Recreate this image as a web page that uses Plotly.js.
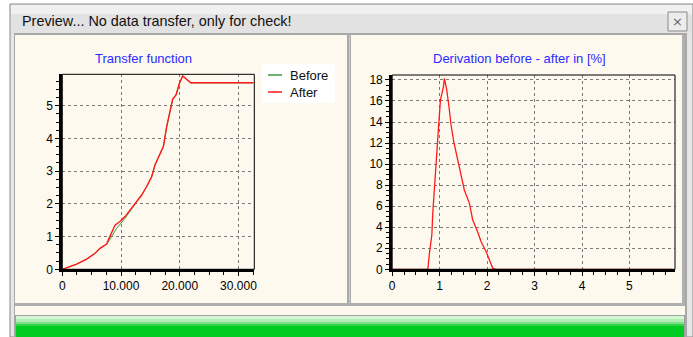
<!DOCTYPE html>
<html><head><meta charset="utf-8">
<script src="https://cdn.plot.ly/plotly-3.0.1.min.js"></script>
<style>html,body{margin:0;padding:0;background:#fff;}#chart{width:693px;height:337px;}</style>
</head><body><div id="chart"></div>
<script>
// ---- data ----
const windowTitle = "Preview... No data transfer, only for check!";
const leftTitle = "Transfer function";
const rightTitle = "Derivation before - after in [%]";
const seriesNames = ["Before", "After"];

const beforeX = [0, 2450, 4150, 5570, 6420, 7560, 7840, 9260, 10680, 12100, 12390, 13520, 14370, 15220, 15790, 16640, 17210, 17780, 18460, 18800, 19370, 19940, 20500, 21070, 21870, 32540];
const beforeY = [0, 0.16, 0.31, 0.49, 0.64, 0.77, 0.84, 1.25, 1.56, 1.91, 2.02, 2.27, 2.53, 2.83, 3.19, 3.54, 3.75, 4.36, 4.97, 5.2, 5.33, 5.68, 5.91, 5.81, 5.70, 5.70];

const afterX = [0, 2450, 4150, 5570, 6420, 7560, 7840, 8410, 8980, 9830, 10680, 11530, 12390, 13520, 14370, 15220, 15790, 16640, 17210, 17780, 18460, 18800, 19370, 19940, 20500, 21070, 21870, 32540];
const afterY = [0, 0.16, 0.31, 0.49, 0.64, 0.77, 0.9, 1.15, 1.35, 1.46, 1.61, 1.81, 2.02, 2.27, 2.53, 2.83, 3.19, 3.54, 3.75, 4.36, 4.97, 5.2, 5.33, 5.68, 5.91, 5.81, 5.70, 5.70];

const devX = [0, 0.75, 0.785, 0.835, 0.855, 0.89, 0.925, 0.975, 1.017, 1.08, 1.10, 1.15, 1.205, 1.24, 1.297, 1.38, 1.45, 1.52, 1.627, 1.697, 1.80, 1.874, 1.98, 2.06, 2.12, 2.19, 5.9];
const devY = [0, 0, 1.52, 3.26, 5.32, 7.85, 10.7, 13.4, 16.1, 17.36, 18.15, 17.04, 15.14, 13.7, 12.13, 10.39, 8.8, 7.54, 6.27, 4.69, 3.57, 2.62, 1.67, 0.72, 0.09, 0, 0];

const leftXTicks = [0, 10000, 20000, 30000];
const leftXTickText = ["0", "10.000", "20.000", "30.000"];
const leftYTicks = [0, 1, 2, 3, 4, 5];
const rightXTicks = [0, 1, 2, 3, 4, 5];
const rightYTicks = [0, 2, 4, 6, 8, 10, 12, 14, 16, 18];

// ---- layout helpers (pixel -> paper) ----
const W = 693, H = 337;
const px = x => x / W;
const py = y => (H - y) / H;
function rect(x0, y0, x1, y1, fill, line, lw) {
  return {type: 'rect', xref: 'paper', yref: 'paper', x0: px(x0), x1: px(x1), y0: py(y1), y1: py(y0),
    fillcolor: fill, line: {color: line || fill, width: lw === undefined ? 0 : lw}, layer: 'below'};
}
function hline(x0, x1, y, color, w) {
  return {type: 'line', xref: 'paper', yref: 'paper', x0: px(x0), x1: px(x1), y0: py(y), y1: py(y),
    line: {color: color, width: w}, layer: 'above'};
}

const green = '#3c9a3c', red = '#ff1a1a';
const gridColor = '#7a7a7a';
const tickFont = {family: 'Liberation Sans, Arial, sans-serif', size: 12, color: '#000'};
const titleFont = {family: 'Liberation Sans, Arial, sans-serif', size: 13, color: '#2b2bff'};

const traces = [
  {x: beforeX, y: beforeY, name: seriesNames[0], type: 'scatter', mode: 'lines', line: {color: green, width: 1}, xaxis: 'x', yaxis: 'y'},
  {x: afterX, y: afterY, name: seriesNames[1], type: 'scatter', mode: 'lines', line: {color: red, width: 1.4}, xaxis: 'x', yaxis: 'y'},
  {x: devX, y: devY, name: 'Derivation', type: 'scatter', mode: 'lines', line: {color: red, width: 1.3}, xaxis: 'x2', yaxis: 'y2'}
];

function axisBase(extra) {
  return Object.assign({
    showgrid: true, gridcolor: gridColor, gridwidth: 1, griddash: '3px,3px',
    zeroline: false, showline: true, linecolor: '#000', mirror: false,
    ticks: 'outside', ticklen: 4, tickcolor: '#000', tickwidth: 1,
    tickfont: tickFont, fixedrange: true
  }, extra);
}

const shapes = [
  // window frame
  rect(10, 4, 693, 337, '#e6e6e6', '#8a8a8a', 1),
  rect(11, 5, 692, 14, '#f0f0f0'),
  rect(11, 14, 692, 33, '#e2e2e2'),
  // client area
  rect(14, 33, 687, 337, '#a8a8a8'),
  rect(15, 35, 685, 337, '#fdf9ef'),
  // panel borders
  rect(347, 35, 351, 305, '#a9a9a9'),
  rect(349, 35, 350, 305, '#d0d0d0'),
  rect(15, 303, 685, 306, '#b0b0b0'),
  rect(682, 35, 685, 306, '#b0b0b0'),
  // progress bar
  rect(15, 315, 685, 337, '#a0a0a0'),
  rect(16, 316, 684, 337, '#00cc22'),
  rect(16, 316, 684, 319, '#d6f7d6'),
  rect(16, 319, 684, 322, '#b2eeb4'),
  rect(16, 322, 684, 324, '#7fe28a'),
  rect(16, 324, 684, 326, '#33d548'),
  // close button
  rect(668, 12, 687, 31, '#ececec', '#8a8a8a', 1),
  // plot frames (thin)
  {type: 'rect', xref: 'x domain', yref: 'y domain', x0: 0, x1: 1, y0: 0, y1: 1, line: {color: '#000', width: 1}, layer: 'above'},
  {type: 'rect', xref: 'x2 domain', yref: 'y2 domain', x0: 0, x1: 1, y0: 0, y1: 1, line: {color: '#000', width: 1}, layer: 'above'},
  // manual legend box
  rect(262, 64, 335, 103, '#ffffff'),
  hline(268, 282, 75, green, 1.5),
  hline(268, 282, 92, red, 1.5)
];

const annotations = [
  {text: windowTitle, xref: 'paper', yref: 'paper', x: px(20), y: py(21), xanchor: 'left', yanchor: 'middle', showarrow: false,
    font: {family: 'Liberation Sans, Arial, sans-serif', size: 14.4, color: '#111'}},
  {text: '×', xref: 'paper', yref: 'paper', x: px(677.5), y: py(21.5), xanchor: 'center', yanchor: 'middle', showarrow: false,
    font: {family: 'DejaVu Sans', size: 13, color: '#666'}},
  {text: leftTitle, xref: 'paper', yref: 'paper', x: px(143), y: py(58.5), xanchor: 'center', yanchor: 'middle', showarrow: false,
    font: titleFont},
  {text: rightTitle, xref: 'paper', yref: 'paper', x: px(519), y: py(58.5), xanchor: 'center', yanchor: 'middle', showarrow: false,
    font: titleFont},
  {text: seriesNames[0], xref: 'paper', yref: 'paper', x: px(288), y: py(75), xanchor: 'left', yanchor: 'middle', showarrow: false,
    font: {family: 'Liberation Sans, Arial, sans-serif', size: 13, color: '#111'}},
  {text: seriesNames[1], xref: 'paper', yref: 'paper', x: px(288), y: py(92), xanchor: 'left', yanchor: 'middle', showarrow: false,
    font: {family: 'Liberation Sans, Arial, sans-serif', size: 13, color: '#111'}}
];

const layout = {
  width: W, height: H,
  margin: {l: 0, r: 0, t: 0, b: 0, pad: 0},
  paper_bgcolor: '#ffffff', plot_bgcolor: '#fdf9ef',
  showlegend: false,
  xaxis: axisBase({domain: [px(62.3), px(254.3)], range: [0, 32700], tickvals: leftXTicks, ticktext: leftXTickText,
    linewidth: 2.5, anchor: 'y', minor: {dtick: 2500, ticks: 'outside', ticklen: 3, tickcolor: '#000', showgrid: false}}),
  yaxis: axisBase({domain: [py(269.3), py(74.3)], range: [0, 5.96], tickvals: leftYTicks,
    linewidth: 3, anchor: 'x', minor: {dtick: 0.25, ticks: 'outside', ticklen: 3, tickcolor: '#000', showgrid: false}}),
  xaxis2: axisBase({domain: [px(392.2), px(675)], range: [0, 5.96], tickvals: rightXTicks,
    linewidth: 2.5, anchor: 'y2', minor: {dtick: 0.25, ticks: 'outside', ticklen: 3, tickcolor: '#000', showgrid: false}}),
  yaxis2: axisBase({domain: [py(269.3), py(75)], range: [0, 18.47], tickvals: rightYTicks,
    linewidth: 3, anchor: 'x2', minor: {dtick: 0.5, ticks: 'outside', ticklen: 3, tickcolor: '#000', showgrid: false}}),
  shapes: shapes,
  annotations: annotations
};

Plotly.newPlot('chart', traces, layout, {staticPlot: true, displayModeBar: false});
</script></body></html>
